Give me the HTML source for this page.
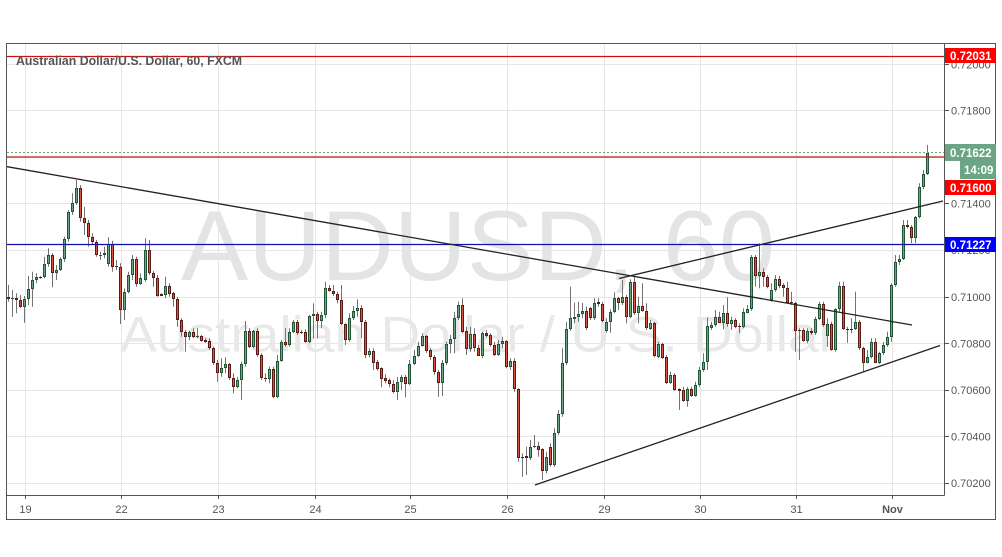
<!DOCTYPE html>
<html><head><meta charset="utf-8">
<style>
html,body{margin:0;padding:0;background:#fff;}
body{width:1002px;height:557px;overflow:hidden;}
svg{display:block;font-family:"Liberation Sans",Arial,sans-serif;}
</style></head>
<body>
<svg id="c" width="1002" height="557" viewBox="0 0 1002 557" xmlns="http://www.w3.org/2000/svg">
<rect x="0" y="0" width="1002" height="557" fill="#fff"/>
<defs><clipPath id="pc"><rect x="7" y="44" width="937" height="451"/></clipPath></defs>
<g id="grid" stroke="#e6e6e6" stroke-width="1">
<line x1="7" x2="944" y1="64.5" y2="64.5"/>
<line x1="7" x2="944" y1="110.5" y2="110.5"/>
<line x1="7" x2="944" y1="157.5" y2="157.5"/>
<line x1="7" x2="944" y1="203.5" y2="203.5"/>
<line x1="7" x2="944" y1="250.5" y2="250.5"/>
<line x1="7" x2="944" y1="297.5" y2="297.5"/>
<line x1="7" x2="944" y1="343.5" y2="343.5"/>
<line x1="7" x2="944" y1="390.5" y2="390.5"/>
<line x1="7" x2="944" y1="436.5" y2="436.5"/>
<line x1="7" x2="944" y1="483.5" y2="483.5"/>
<line y1="44" y2="495" x1="25.5" x2="25.5"/>
<line y1="44" y2="495" x1="121.5" x2="121.5"/>
<line y1="44" y2="495" x1="218.5" x2="218.5"/>
<line y1="44" y2="495" x1="315.5" x2="315.5"/>
<line y1="44" y2="495" x1="410.5" x2="410.5"/>
<line y1="44" y2="495" x1="507.5" x2="507.5"/>
<line y1="44" y2="495" x1="604.5" x2="604.5"/>
<line y1="44" y2="495" x1="700.5" x2="700.5"/>
<line y1="44" y2="495" x1="796.5" x2="796.5"/>
<line y1="44" y2="495" x1="892.5" x2="892.5"/>
</g>
<g clip-path="url(#pc)">
<text x="478" y="280" font-size="99" fill="#e4e4e4" text-anchor="middle" textLength="594" lengthAdjust="spacingAndGlyphs">AUDUSD, 60</text>
<text x="478.5" y="351.5" font-size="50" fill="#e8e8e8" text-anchor="middle" textLength="717" lengthAdjust="spacingAndGlyphs">Australian Dollar / U.S. Dollar</text>
<g id="candles"></g>
<line x1="7" x2="944" y1="56.5" y2="56.5" stroke="#d01010" stroke-width="1.2"/>
<line x1="7" x2="944" y1="157" y2="157" stroke="#c01818" stroke-width="1.2"/>
<line x1="7" x2="944" y1="152.5" y2="152.5" stroke="#6ba583" stroke-width="1" stroke-dasharray="2,2"/>
<line x1="7" x2="944" y1="244.5" y2="244.5" stroke="#1010b0" stroke-width="1.3"/>
<line x1="7" y1="166.7" x2="912" y2="325" stroke="#222" stroke-width="1.3"/>
<line x1="535" y1="485" x2="940" y2="345.5" stroke="#222" stroke-width="1.3"/>
<line x1="619" y1="278.5" x2="943" y2="201" stroke="#222" stroke-width="1.3"/>
</g>
<text x="16" y="65" font-size="12.5" font-weight="bold" fill="#555" textLength="226" lengthAdjust="spacingAndGlyphs">Australian Dollar/U.S. Dollar, 60, FXCM</text>
<!-- borders -->
<rect x="6.5" y="43.5" width="989" height="476" fill="none" stroke="#555" stroke-width="1"/>
<line x1="944.5" y1="43.5" x2="944.5" y2="495.5" stroke="#555" stroke-width="1"/>
<line x1="6.5" y1="495.5" x2="944.5" y2="495.5" stroke="#555" stroke-width="1"/>
<!-- right ticks -->
<g stroke="#555" stroke-width="1">
<line x1="945" x2="949" y1="64.5" y2="64.5"/>
<line x1="945" x2="949" y1="110.5" y2="110.5"/>
<line x1="945" x2="949" y1="157.5" y2="157.5"/>
<line x1="945" x2="949" y1="203.5" y2="203.5"/>
<line x1="945" x2="949" y1="250.5" y2="250.5"/>
<line x1="945" x2="949" y1="297.5" y2="297.5"/>
<line x1="945" x2="949" y1="343.5" y2="343.5"/>
<line x1="945" x2="949" y1="390.5" y2="390.5"/>
<line x1="945" x2="949" y1="436.5" y2="436.5"/>
<line x1="945" x2="949" y1="483.5" y2="483.5"/>
<line y1="496" y2="499" x1="25.5" x2="25.5"/>
<line y1="496" y2="499" x1="121.5" x2="121.5"/>
<line y1="496" y2="499" x1="218.5" x2="218.5"/>
<line y1="496" y2="499" x1="315.5" x2="315.5"/>
<line y1="496" y2="499" x1="410.5" x2="410.5"/>
<line y1="496" y2="499" x1="507.5" x2="507.5"/>
<line y1="496" y2="499" x1="604.5" x2="604.5"/>
<line y1="496" y2="499" x1="700.5" x2="700.5"/>
<line y1="496" y2="499" x1="796.5" x2="796.5"/>
<line y1="496" y2="499" x1="892.5" x2="892.5"/>
</g>
<g font-size="11" fill="#555">
<text x="951" y="68.5">0.72000</text>
<text x="951" y="114.5">0.71800</text>
<text x="951" y="161">0.71600</text>
<text x="951" y="207.5">0.71400</text>
<text x="951" y="254">0.71200</text>
<text x="951" y="301">0.71000</text>
<text x="951" y="347.5">0.70800</text>
<text x="951" y="394">0.70600</text>
<text x="951" y="440.5">0.70400</text>
<text x="951" y="487">0.70200</text>
</g>
<g font-size="11" fill="#555" text-anchor="middle">
<text x="25.5" y="513">19</text>
<text x="121.5" y="513">22</text>
<text x="218.5" y="513">23</text>
<text x="315.5" y="513">24</text>
<text x="410.5" y="513">25</text>
<text x="507.5" y="513">26</text>
<text x="604.5" y="513">29</text>
<text x="700.5" y="513">30</text>
<text x="796.5" y="513">31</text>
<text x="892.5" y="513" font-weight="bold">Nov</text>
</g>
<!-- price boxes -->
<rect x="945" y="48" width="51" height="15" fill="#ff0000"/>
<text x="950" y="60" font-size="11.5" font-weight="bold" fill="#fff">0.72031</text>
<rect x="945" y="144" width="51" height="17" fill="#6ba583"/>
<text x="950" y="157" font-size="11.5" font-weight="bold" fill="#fff">0.71622</text>
<rect x="960" y="161" width="36" height="18" fill="#6ba583"/>
<text x="964" y="174" font-size="11.5" font-weight="bold" fill="#fff">14:09</text>
<rect x="945" y="180" width="51" height="15" fill="#ff0000"/>
<text x="950" y="192" font-size="11.5" font-weight="bold" fill="#fff">0.71600</text>
<rect x="945" y="237" width="51" height="15" fill="#0000ff"/>
<text x="950" y="249" font-size="11.5" font-weight="bold" fill="#fff">0.71227</text>
</svg>
<script>
(function(){
var segs=[
[170,[[381,387,345,395,0],[384,388,360,440,1],[384,390,370,430,0],[390,410,375,415,0],[388,410,378,458,1],[357,388,318,405,1],[330,358,305,410,1],[321,331,310,340,1],[321,324,318,326,0],[283,322,260,325,1],[256,283,235,290,1],[256,310,250,352,0],[300,310,285,330,1],[268,300,262,303,1],[208,268,200,275,1],[127,208,120,215,1],[100,127,70,135,1],[55,100,30,105,1],[55,145,45,155,0],[145,160,110,195,0],[160,202,150,230,0],[202,217,190,225,0],[217,255,210,260,0],[254,257,245,270,1],[250,256,230,265,1],[222,283,202,290,1],[222,292,212,305,0],[288,292,270,300,0],[290,420,280,462,0],[365,420,355,450,1],[315,365,305,370,1],[268,315,255,330,1],[268,342,260,350,0],[325,342,310,345,1],[240,330,205,335,1],[240,310,210,315,0],[310,325,303,350,0],[325,377,315,380,0],[373,377,370,378,0],[349,375,320,385,1],[349,371,340,380,0],[370,387,365,410,0],[387,450,380,470,0],[450,487,445,500,0],[487,500,480,545,0],[487,500,482,510,1]]],
[270,[[185,202,175,205,0],[198,202,175,205,1],[198,212,195,215,0],[209,215,205,218,0],[212,235,205,240,0],[235,278,230,285,0],[278,310,270,335,0],[295,310,265,320,1],[283,295,262,310,1],[283,325,280,330,0],[325,352,310,370,0],[330,352,320,355,1],[283,330,275,390,1],[183,283,153,290,1],[183,230,175,235,0],[183,230,180,235,1],[183,255,175,260,0],[255,325,250,330,0],[323,328,310,335,0],[298,328,290,340,1],[298,382,290,385,0],[273,382,255,385,1],[215,273,210,275,1],[215,225,175,230,0],[185,225,175,230,1],[157,187,150,190,1],[157,190,150,195,0],[185,190,180,192,0],[185,215,178,218,0],[138,215,135,220,1],[132,138,100,205,1],[132,152,125,205,0],[135,152,125,175,1],[55,135,35,145,1],[55,62,45,65,0],[62,72,45,78,0],[72,90,65,100,0],[90,163,45,165,0],[163,210,160,225,0],[145,210,130,215,1],[123,145,108,150,1],[115,123,88,140,1],[115,155,105,205,0],[155,255,150,265,0],[243,255,235,262,1],[243,278,235,300,0]]],
[280,[[247,267,240,272,0],[265,297,262,322,0],[293,302,283,310,0],[300,313,295,322,0],[313,335,300,340,0],[307,335,290,360,1],[292,307,285,330,1],[292,311,285,352,0],[253,311,240,315,1],[227,253,210,255,1],[198,227,185,230,1],[168,198,160,200,1],[168,213,165,218,0],[210,232,205,240,0],[232,277,225,285,0],[277,308,270,350,0],[250,308,240,348,1],[193,250,185,255,1],[178,193,165,220,1],[115,178,95,220,1],[75,115,65,120,1],[75,155,55,160,0],[153,208,140,225,0],[163,208,140,215,1],[163,205,145,215,0],[205,227,195,228,0],[158,227,155,235,1],[158,167,150,172,0],[165,195,160,200,0],[195,225,185,228,0],[193,225,180,228,1],[183,193,170,205,1],[183,260,180,265,0],[243,260,235,270,1],[243,328,235,335,0],[328,533,325,545,0],[530,533,520,590,0],[528,535,500,585,0],[502,535,480,540,1],[498,502,465,505,1],[498,510,485,530,0],[508,573,505,600,0],[530,573,515,580,1],[500,556,490,560,0],[458,556,445,560,1],[403,458,390,465,1]]],
[260,[[310,463,265,470,1],[208,310,185,315,1],[175,208,80,212,1],[170,176,128,190,1],[162,170,125,185,1],[153,163,128,175,1],[153,205,140,210,0],[143,175,140,180,0],[128,175,115,180,1],[126,133,115,140,0],[132,183,125,187,0],[187,212,175,218,1],[157,187,148,218,1],[115,157,97,160,1],[115,130,110,150,0],[112,130,60,135,1],[112,170,105,190,0],[66,170,58,175,1],[66,160,48,165,0],[138,160,110,190,1],[138,152,70,155,0],[152,205,130,210,0],[188,207,180,210,1],[188,287,185,292,0],[252,290,245,295,1],[252,293,248,297,0],[290,368,285,372,0],[345,368,335,372,1],[345,390,340,392,0],[387,392,385,450,0],[390,422,380,425,0],[387,422,382,440,1],[387,408,380,410,0],[375,408,365,410,1],[330,375,320,380,1],[305,330,280,335,1],[198,307,172,330,1],[195,203,185,210,1],[170,195,150,200,1],[170,188,155,190,0],[160,188,135,208,1],[158,193,112,200,0],[180,193,170,210,1],[180,200,175,205,0],[197,200,190,220,0],[155,200,145,205,1]]],
[140,[[508,518,495,520,1],[352,508,345,512,1],[352,408,345,440,0],[395,408,310,445,1],[395,410,385,440,0],[410,440,405,445,0],[450,480,430,485,1],[418,450,405,455,1],[418,438,408,445,0],[435,445,430,470,0],[445,488,425,490,0],[486,490,455,495,0],[490,573,485,635,0],[570,573,565,660,0],[570,602,565,605,0],[572,602,565,610,1],[572,580,565,585,0],[538,580,530,585,1],[492,538,485,540,1],[492,555,485,560,0],[552,587,535,620,1],[552,630,545,632,0],[508,630,505,635,1],[438,508,425,515,1],[438,568,425,570,0],[566,570,560,608,0],[566,570,535,580,0],[545,568,455,570,1],[545,625,540,630,0],[625,668,620,695,0],[652,668,630,670,1],[605,652,595,655,1],[605,668,595,670,0],[640,668,635,672,1],[615,640,605,645,1],[592,615,575,620,1],[435,592,430,605,1],[365,435,345,440,1],[357,365,345,375,1],[255,357,240,360,1],[255,262,240,265,0],[262,295,255,310,0],[232,295,228,310,1],[142,232,130,235,1],[102,142,90,148,1],[38,102,15,105,1]]]
];
var NS="http://www.w3.org/2000/svg";
var g=document.getElementById("candles");
var html="";
var i=0;
for(var s=0;s<segs.length;s++){
  var oy=segs[s][0],arr=segs[s][1];
  for(var k=0;k<arr.length;k++){
    var c=arr[k];
    var cx=8.5+i*4.015;
    var x0=Math.round(cx-1.5);
    var bt=Math.round(oy+c[0]/3),bb=Math.round(oy+c[1]/3);
    var wt=oy+c[2]/3,wb=oy+c[3]/3;
    if(bb-bt<1)bb=bt+1;
    var up=c[4]===1;
    var bord=up?"#225437":"#5b1a13";
    var fill=up?"#6ba583":"#d75442";
    html+='<line x1="'+(x0+1.5)+'" x2="'+(x0+1.5)+'" y1="'+wt.toFixed(1)+'" y2="'+wb.toFixed(1)+'" stroke="#737375" stroke-width="1"/>';
    html+='<rect x="'+x0+'" y="'+bt+'" width="3" height="'+(bb-bt)+'" fill="'+bord+'"/>';
    if(bb-bt>2){
      html+='<rect x="'+(x0+1)+'" y="'+(bt+1)+'" width="1" height="'+(bb-bt-2)+'" fill="'+fill+'"/>';
    }
    i++;
  }
}
g.innerHTML=html;
})();
</script>
</body></html>
